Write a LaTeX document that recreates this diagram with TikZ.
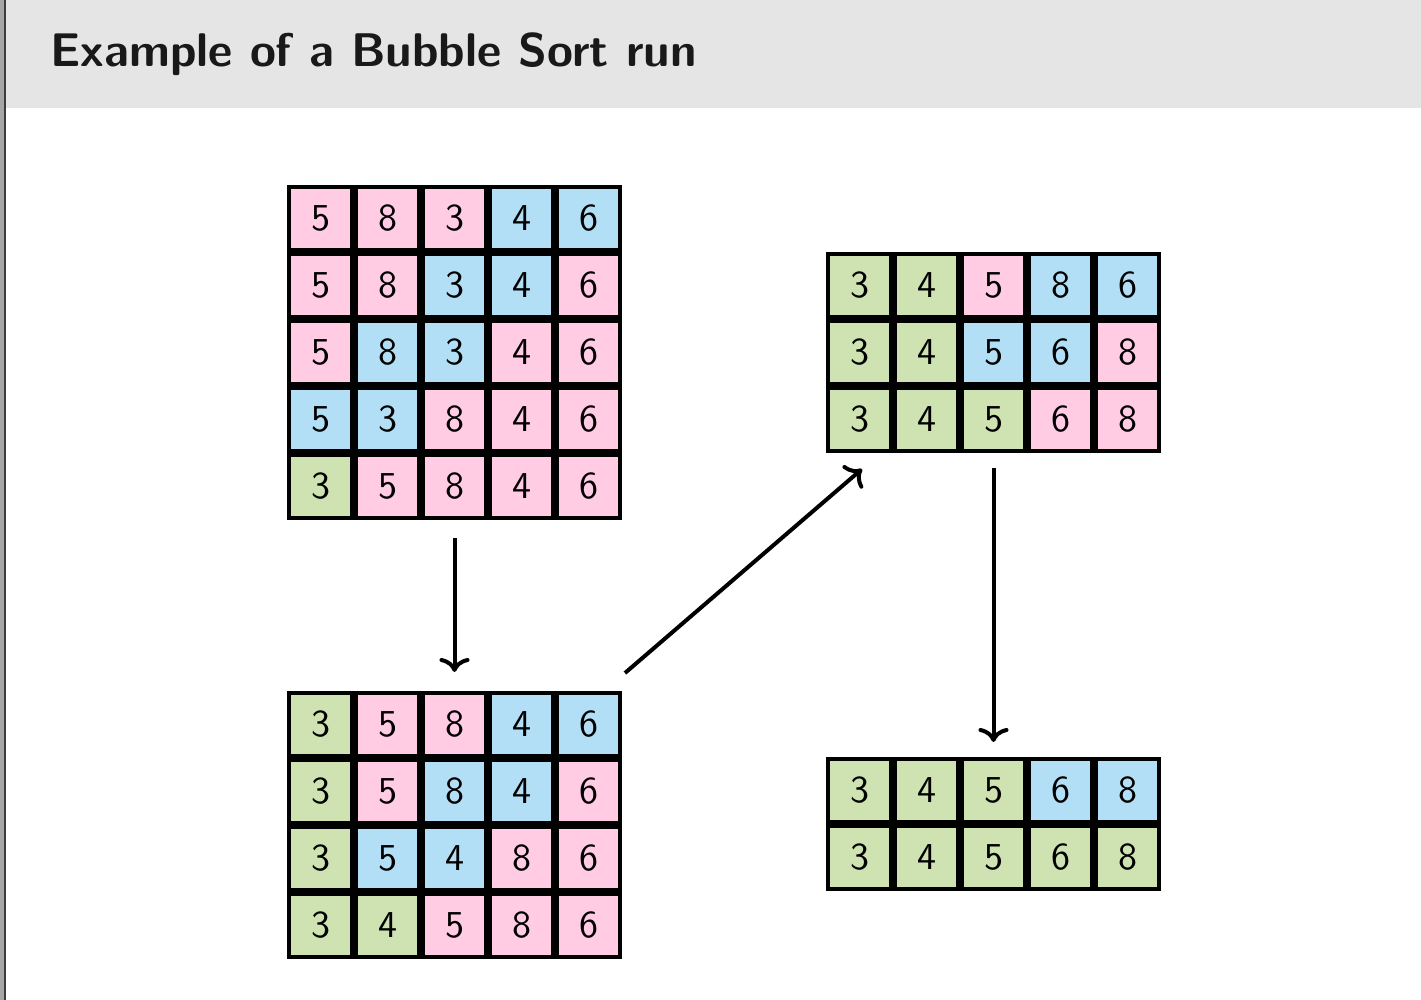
\documentclass[tikz,border=0pt]{standalone}
\usepackage{fontspec}
\newfontfamily\cellfont{lmsans10-regular.otf}
\newfontfamily\titlefont{lmsans10-bold.otf}
\usetikzlibrary{fit,calc,arrows.meta}
\definecolor{cp}{RGB}{255,204,228}
\definecolor{cb}{RGB}{178,223,246}
\definecolor{cg}{RGB}{206,226,178}
\definecolor{hdr}{RGB}{229,229,229}
\definecolor{stripgray}{RGB}{166,166,166}
\definecolor{stripdark}{RGB}{60,60,60}
\tikzset{
  cell/.style={draw=black, line width=2pt, minimum size=31.5pt, inner sep=0pt,
    font=\cellfont\fontsize{19}{19}\selectfont},
  gridbox/.style={inner sep=0pt, outer sep=0pt},
  arr/.style={line width=2pt, -{Computer Modern Rightarrow[length=7pt,width=15pt]}},
  titletext/.style={font=\titlefont\fontsize{23.6}{23.6}\selectfont, text=black!90, inner sep=0pt}
}
\newcommand\bubblegrid[5]{%
  \foreach \rowlist [count=\r from 0] in {#5} {
    \foreach \v/\c [count=\k from 0] in \rowlist {
      \node[cell, fill=c\c] (#1-\r-\k) at ({#2+33.5+67*\k},{#3+33.5+67*\r}) {\v};
    }
  }
  \node[gridbox, fit={(#2,#3) ({#2+335},{#3+67*#4})}] (#1) {};
}
\begin{document}
\begin{tikzpicture}[x=0.5pt,y=-0.5pt]
\useasboundingbox (0,0) rectangle (1421,1000);
\fill[white] (0,0) rectangle (1421,1000);
\fill[hdr] (5,0) rectangle (1421,108);
\fill[stripgray] (0,0) rectangle (4,1000);
\fill[stripdark] (4,0) rectangle (5.5,1000);
\node[titletext, anchor=base west] (title) at (50,67) {Example of a Bubble Sort run};

\bubblegrid{ga}{287}{185}{5}{{5/p,8/p,3/p,4/b,6/b},{5/p,8/p,3/b,4/b,6/p},{5/p,8/b,3/b,4/p,6/p},{5/b,3/b,8/p,4/p,6/p},{3/g,5/p,8/p,4/p,6/p}}
\bubblegrid{gb}{287}{691}{4}{{3/g,5/p,8/p,4/b,6/b},{3/g,5/p,8/b,4/b,6/p},{3/g,5/b,4/b,8/p,6/p},{3/g,4/g,5/p,8/p,6/p}}
\bubblegrid{gc}{826}{252}{3}{{3/g,4/g,5/p,8/b,6/b},{3/g,4/g,5/b,6/b,8/p},{3/g,4/g,5/g,6/p,8/p}}
\bubblegrid{gd}{826}{757}{2}{{3/g,4/g,5/g,6/b,8/b},{3/g,4/g,5/g,6/g,8/g}}

\coordinate (s2) at ($(gb.north east)+(3,-18)$);
\coordinate (e2) at ($(gc.south west)+(36,16)$);
\draw[arr, shorten <=9pt, shorten >=9.5pt] (ga.south) -- (gb.north);
\draw[arr] (s2) -- (e2);
\draw[arr, shorten <=7.5pt, shorten >=7.5pt] (gc.south) -- (gd.north);
\end{tikzpicture}
\end{document}
